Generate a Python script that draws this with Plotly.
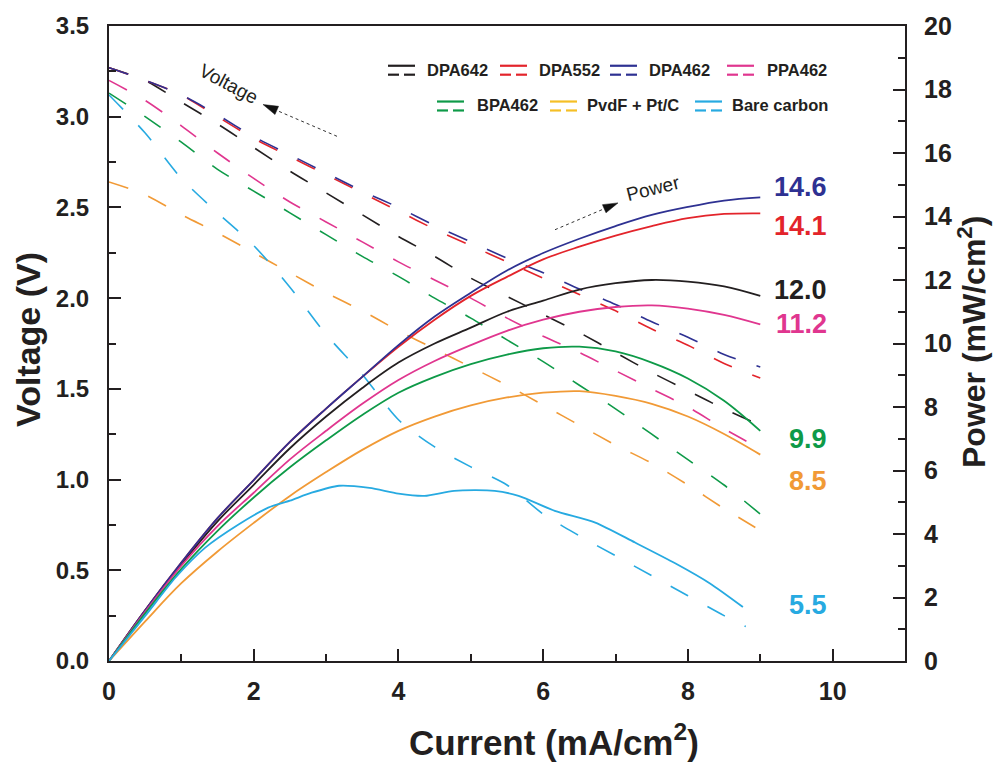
import math
import plotly.graph_objects as go

# ---------------- data ----------------
current = [0, 0.5, 1, 1.5, 2, 2.5, 3, 3.5, 4, 4.5, 5, 5.5, 6, 6.5, 7, 7.5, 8, 8.5, 9]

v_dpa642 = [3.27, 3.20, 3.08, 2.96, 2.83, 2.70, 2.58, 2.46, 2.34, 2.23, 2.11, 2.01, 1.91, 1.81, 1.70, 1.59, 1.49, 1.39, 1.30]
v_dpa552 = [3.27, 3.20, 3.12, 3.00, 2.88, 2.78, 2.68, 2.58, 2.48, 2.38, 2.29, 2.20, 2.11, 2.02, 1.93, 1.83, 1.74, 1.64, 1.56]
v_dpa462 = [3.27, 3.20, 3.12, 3.01, 2.89, 2.79, 2.69, 2.59, 2.50, 2.40, 2.31, 2.22, 2.14, 2.05, 1.965, 1.87, 1.785, 1.69, 1.62]
v_ppa462 = [3.20, 3.09, 2.95, 2.80, 2.66, 2.53, 2.42, 2.31, 2.20, 2.10, 2.00, 1.89, 1.79, 1.70, 1.60, 1.50, 1.40, 1.28, 1.17]
v_bpa462 = [3.13, 3.00, 2.86, 2.71, 2.59, 2.47, 2.35, 2.23, 2.12, 2.00, 1.89, 1.77, 1.65, 1.52, 1.39, 1.25, 1.11, 0.97, 0.81]
v_pvdf = [2.64, 2.57, 2.46, 2.36, 2.25, 2.14, 2.03, 1.93, 1.82, 1.72, 1.62, 1.52, 1.41, 1.30, 1.19, 1.09, 0.97, 0.84, 0.72]

p_dpa642 = [0, 1.60, 3.05, 4.40, 5.55, 6.70, 7.70, 8.60, 9.40, 10.0, 10.5, 11.0, 11.35, 11.7, 11.9, 12.0, 11.95, 11.8, 11.5]
p_dpa552 = [0, 1.60, 3.10, 4.50, 5.70, 6.90, 7.95, 8.95, 9.90, 10.75, 11.5, 12.1, 12.65, 13.05, 13.4, 13.7, 13.95, 14.08, 14.1]
p_dpa462 = [0, 1.60, 3.10, 4.50, 5.70, 6.90, 7.95, 8.95, 9.95, 10.85, 11.6, 12.3, 12.85, 13.3, 13.7, 14.05, 14.3, 14.5, 14.6]
p_ppa462 = [0, 1.55, 3.00, 4.25, 5.30, 6.35, 7.25, 8.10, 8.85, 9.45, 9.95, 10.4, 10.75, 11.0, 11.15, 11.2, 11.1, 10.9, 10.6]
p_bpa462 = [0, 1.50, 2.90, 4.10, 5.15, 6.10, 6.95, 7.75, 8.45, 8.95, 9.35, 9.65, 9.85, 9.9, 9.75, 9.4, 8.9, 8.2, 7.25]
p_pvdf = [0, 1.25, 2.45, 3.45, 4.35, 5.20, 5.95, 6.65, 7.25, 7.70, 8.05, 8.30, 8.45, 8.5, 8.35, 8.1, 7.7, 7.15, 6.5]

current_bare_v = [0, 0.5, 1, 1.5, 2, 2.5, 3, 3.5, 4, 4.5, 5, 5.5, 6, 6.5, 7, 7.5, 8, 8.5, 8.8]
v_bare = [3.12, 2.91, 2.66, 2.47, 2.29, 2.06, 1.80, 1.58, 1.33, 1.18, 1.07, 0.97, 0.81, 0.69, 0.58, 0.47, 0.36, 0.25, 0.19]
current_bare_p = [0, 0.5, 0.92, 1.33, 1.79, 2.2, 2.5, 2.8, 3.18, 3.6, 4.0, 4.36, 4.77, 5.33, 5.66, 6.16, 6.72, 7.27, 7.83, 8.3, 8.76]
p_bare = [0, 1.42, 2.63, 3.57, 4.30, 4.83, 5.05, 5.30, 5.52, 5.45, 5.27, 5.20, 5.36, 5.36, 5.20, 4.73, 4.36, 3.73, 3.07, 2.45, 1.70]

names = ["DPA642", "DPA552", "DPA462", "PPA462", "BPA462", "PvdF + Pt/C", "Bare carbon"]
colors = ["#231f20", "#e3242b", "#2e3192", "#e0368f", "#0e9a48", "#f19a36", "#27aae1"]
legend_colors = ["#231f20", "#e3242b", "#2e3192", "#e0368f", "#0e9a48", "#f5bf26", "#27aae1"]
max_power_labels = ["12.0", "14.1", "14.6", "11.2", "9.9", "8.5", "5.5"]

voltages = [v_dpa642, v_dpa552, v_dpa462, v_ppa462, v_bpa462, v_pvdf]
powers = [p_dpa642, p_dpa552, p_dpa462, p_ppa462, p_bpa462, p_pvdf]

FONT = "Liberation Sans, Arial, Helvetica, sans-serif"
INK = "#231f20"

fig = go.Figure()

dash = "20px,22px"
for name, col, v in zip(names[:6], colors[:6], voltages):
    fig.add_trace(go.Scatter(x=current, y=v, mode="lines", name=name + " V",
                             line=dict(color=col, width=1.6, dash=dash, shape="spline", smoothing=0.8),
                             showlegend=False))
fig.add_trace(go.Scatter(x=current_bare_v, y=v_bare, mode="lines", name="Bare carbon V",
                         line=dict(color=colors[6], width=1.6, dash=dash, shape="spline", smoothing=0.8),
                         showlegend=False))

for name, col, p in zip(names[:6], colors[:6], powers):
    fig.add_trace(go.Scatter(x=current, y=p, mode="lines", name=name + " P", yaxis="y2",
                             line=dict(color=col, width=1.8, shape="spline", smoothing=1.0),
                             showlegend=False))
fig.add_trace(go.Scatter(x=current_bare_p, y=p_bare, mode="lines", name="Bare carbon P", yaxis="y2",
                         line=dict(color=colors[6], width=1.8, shape="spline", smoothing=0.7),
                         showlegend=False))

# ---------------- layout geometry ----------------
W, H = 995, 765
L, R, T, B = 109, 90, 22, 104
pw, ph = W - L - R, H - T - B


def px(xp):
    return (xp - L) / pw


def py(yp):
    return (H - B - yp) / ph


annotations = []
shapes = []

# max power labels
label_y = [11.7, 13.7, 14.92, 10.6, 6.99, 5.67, 1.76]
for lab, col, yv in zip(max_power_labels, colors, label_y):
    annotations.append(dict(x=px(829), y=yv, xref="paper", yref="y2", text="<b>%s</b>" % lab,
                            showarrow=False, xanchor="right", yanchor="middle",
                            font=dict(family=FONT, size=27, color=col)))

# custom legend (solid line over dashed line = power + voltage)
legend_pos = [(388, 66, 425), (500, 66, 537), (610, 66, 647), (727, 66, 765),
              (437, 102, 475), (550, 102, 585), (695, 102, 730)]
for (sx, sy, tx), name, col in zip(legend_pos, names, legend_colors):
    shapes.append(dict(type="line", xref="paper", yref="paper", x0=px(sx), x1=px(sx + 27),
                       y0=py(sy - 4), y1=py(sy - 4), line=dict(color=col, width=2.2)))
    shapes.append(dict(type="line", xref="paper", yref="paper", x0=px(sx), x1=px(sx + 11),
                       y0=py(sy + 5), y1=py(sy + 5), line=dict(color=col, width=2.2)))
    shapes.append(dict(type="line", xref="paper", yref="paper", x0=px(sx + 16), x1=px(sx + 27),
                       y0=py(sy + 5), y1=py(sy + 5), line=dict(color=col, width=2.2)))
    annotations.append(dict(x=px(tx), y=py(sy), xref="paper", yref="paper", text="<b>%s</b>" % name,
                            showarrow=False, xanchor="left", yanchor="middle",
                            font=dict(family=FONT, size=16.5, color=INK)))


def dotted_arrow(tip, tail, head_len=15, half_w=4.5):
    dx, dy = tip[0] - tail[0], tip[1] - tail[1]
    n = math.hypot(dx, dy)
    ux, uy = dx / n, dy / n
    bx, by = tip[0] - head_len * ux, tip[1] - head_len * uy
    nx, ny = -uy * half_w, ux * half_w
    shapes.append(dict(type="line", xref="paper", yref="paper", x0=px(tail[0]), y0=py(tail[1]),
                       x1=px(bx), y1=py(by), line=dict(color="#333", width=1, dash="dot")))
    path = "M %f,%f L %f,%f L %f,%f Z" % (px(tip[0]), py(tip[1]), px(bx + nx), py(by + ny),
                                           px(bx - nx), py(by - ny))
    shapes.append(dict(type="path", xref="paper", yref="paper", path=path,
                       fillcolor="#111", line=dict(color="#111", width=0.5)))


dotted_arrow((263, 101), (337, 133))
dotted_arrow((618, 200), (555, 227))
annotations.append(dict(x=px(228), y=py(80), xref="paper", yref="paper", text="Voltage", textangle=28,
                        xanchor="center", yanchor="middle",
                        showarrow=False, font=dict(family=FONT, size=19, color=INK)))
annotations.append(dict(x=px(653), y=py(186), xref="paper", yref="paper", text="Power", textangle=-14,
                        xanchor="center", yanchor="middle",
                        showarrow=False, font=dict(family=FONT, size=19, color=INK)))

# axis titles
annotations.append(dict(x=px(554), y=py(741), xref="paper", yref="paper",
                        text="<b>Current (mA/cm<sup>2</sup>)</b>", showarrow=False,
                        xanchor="center", yanchor="middle", font=dict(family=FONT, size=35, color=INK)))
annotations.append(dict(x=px(28), y=py(338), xref="paper", yref="paper",
                        text="<b>Voltage (V)</b>", showarrow=False, textangle=-90,
                        xanchor="center", yanchor="middle", font=dict(family=FONT, size=34, color=INK)))
annotations.append(dict(x=px(972), y=py(340), xref="paper", yref="paper",
                        text="<b>Power (mW/cm<sup>2</sup>)</b>", showarrow=False, textangle=-90,
                        xanchor="center", yanchor="middle", font=dict(family=FONT, size=32, color=INK)))

axis_common = dict(showgrid=False, zeroline=False, showline=True, linecolor=INK, linewidth=2,
                   ticks="inside", ticklen=12, tickwidth=1.5, tickcolor=INK)

fig.update_layout(
    width=W, height=H,
    margin=dict(l=L, r=R, t=T, b=B, pad=0),
    paper_bgcolor="white", plot_bgcolor="white",
    showlegend=False,
    annotations=annotations,
    shapes=shapes,
    xaxis=dict(range=[0, 11], dtick=2, tick0=0, mirror=True,
               minor=dict(ticks="inside", ticklen=7, dtick=1, tickwidth=1.5, tickcolor=INK),
               tickfont=dict(family=FONT, size=25, color=INK, weight="bold"),
               ticklabelstandoff=7, **axis_common),
    yaxis=dict(range=[0, 3.5], dtick=0.5, tick0=0, tickformat=".1f",
               minor=dict(ticks="inside", ticklen=7, dtick=0.25, tickwidth=1.5, tickcolor=INK),
               tickfont=dict(family=FONT, size=24, color=INK, weight="bold"),
               ticklabelstandoff=13, **axis_common),
    yaxis2=dict(range=[0, 20], dtick=2, tick0=0, overlaying="y", side="right",
                minor=dict(ticks="inside", ticklen=7, dtick=1, tickwidth=1.5, tickcolor=INK),
                tickfont=dict(family=FONT, size=25, color=INK, weight="bold"),
                ticklabelstandoff=12, **axis_common),
)

fig.write_html("out.html")
